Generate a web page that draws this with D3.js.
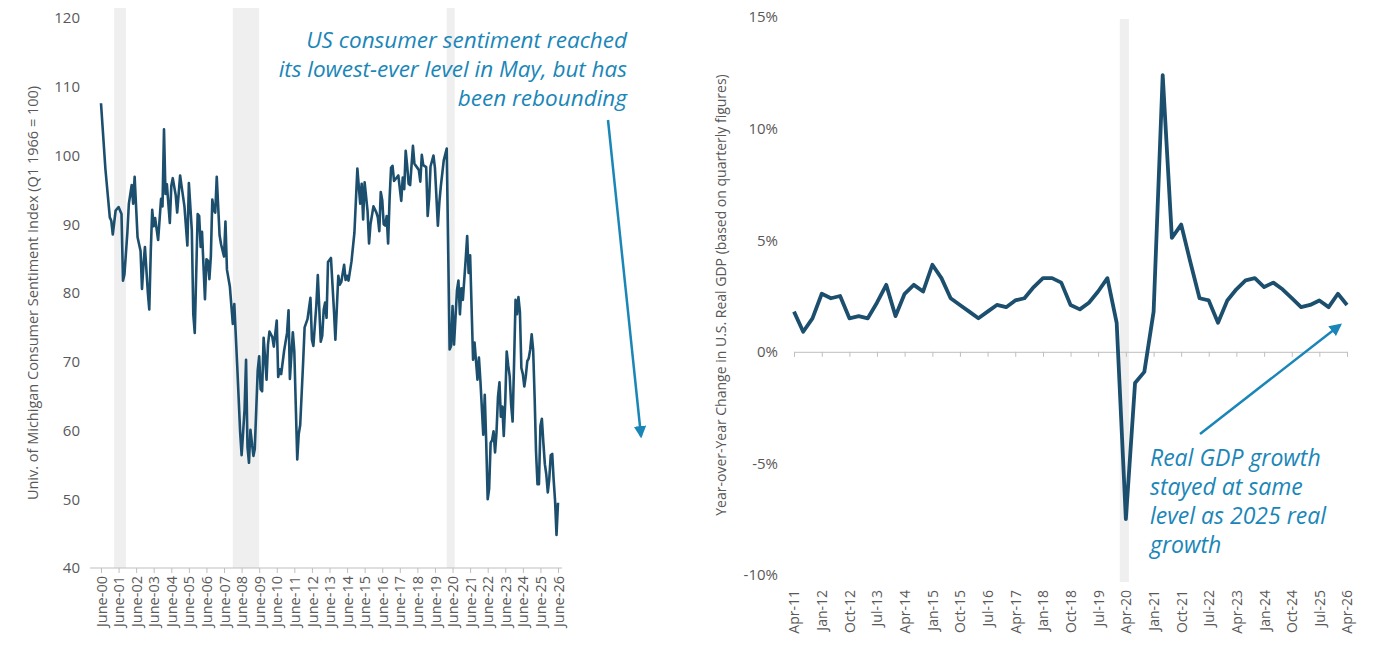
<!DOCTYPE html>
<html><head><meta charset="utf-8">
<script src="https://cdn.jsdelivr.net/npm/d3@7"></script>
<style>body{margin:0;background:#fff}text{font-family:"Open Sans",sans-serif}</style>
</head><body>
<script>
// sentiment, monthly-ish points
var sentDates = ["2000-06","2000-09","2000-12","2001-01","2001-02","2001-04","2001-06","2001-08","2001-09","2001-10","2001-12","2002-01","2002-03","2002-04","2002-05","2002-07","2002-09","2002-10","2002-11","2002-12","2003-02","2003-03","2003-04","2003-05","2003-06","2003-07","2003-08","2003-09","2003-11","2003-12","2004-01","2004-02","2004-03","2004-05","2004-06","2004-07","2004-09","2004-10","2004-12","2005-01","2005-03","2005-05","2005-06","2005-08","2005-09","2005-10","2005-12","2006-01","2006-02","2006-03","2006-05","2006-06","2006-07","2006-08","2006-09","2006-10","2006-11","2006-12","2007-01","2007-03","2007-04","2007-06","2007-07","2007-08","2007-10","2007-12","2008-01","2008-03","2008-05","2008-06","2008-08","2008-09","2008-10","2008-11","2008-12","2009-02","2009-03","2009-05","2009-06","2009-07","2009-08","2009-09","2009-10","2009-11","2009-12","2010-01","2010-03","2010-04","2010-06","2010-07","2010-08","2010-09","2010-11","2011-01","2011-02","2011-03","2011-05","2011-06","2011-07","2011-08","2011-09","2011-10","2011-12","2012-01","2012-03","2012-05","2012-06","2012-07","2012-09","2012-10","2012-12","2013-01","2013-02","2013-03","2013-04","2013-05","2013-07","2013-09","2013-10","2013-12","2014-01","2014-02","2014-04","2014-05","2014-06","2014-07","2014-09","2014-11","2015-01","2015-02","2015-03","2015-04","2015-05","2015-06","2015-08","2015-09","2015-10","2015-12","2016-02","2016-03","2016-04","2016-05","2016-06","2016-07","2016-08","2016-09","2016-10","2016-11","2016-12","2017-01","2017-02","2017-05","2017-07","2017-08","2017-09","2017-10","2017-11","2017-12","2018-01","2018-03","2018-04","2018-06","2018-07","2018-08","2018-09","2018-10","2018-12","2019-01","2019-02","2019-03","2019-05","2019-06","2019-08","2019-09","2019-10","2019-12","2020-02","2020-04","2020-05","2020-06","2020-07","2020-09","2020-10","2020-11","2020-12","2021-01","2021-03","2021-04","2021-05","2021-06","2021-08","2021-09","2021-11","2021-12","2022-01","2022-03","2022-04","2022-05","2022-06","2022-07","2022-08","2022-09","2022-10","2022-11","2022-12","2023-01","2023-02","2023-03","2023-04","2023-05","2023-06","2023-07","2023-08","2023-09","2023-10","2023-11","2023-12","2024-01","2024-02","2024-03","2024-04","2024-05","2024-06","2024-07","2024-08","2024-09","2024-10","2024-11","2024-12","2025-01","2025-02","2025-03","2025-04","2025-05","2025-06","2025-07","2025-08","2025-09","2025-10","2025-11","2025-12","2026-01","2026-02","2026-03","2026-04","2026-05","2026-06"];
var sentVals = [107.6,98,91,90.5,88.5,92,92.5,91.5,81.8,82.7,88.8,93,95.7,93,96.9,88.1,86.1,80.6,84.2,86.7,79.9,77.6,86,92.1,89.7,90.9,89.3,87.7,93.7,92.6,103.8,94.4,95.8,90.2,95.6,96.7,94.2,91.7,97.1,95.5,92.6,86.9,96,89.1,76.9,74.2,91.5,91.2,86.7,88.9,79.1,84.9,84.7,82,85.4,93.6,92.1,91.7,96.9,88.4,87.1,85.3,90.4,83.4,80.9,75.5,78.4,69.5,59.8,56.4,63,70.3,57.6,55.3,60.1,56.3,57.3,68.7,70.8,66,65.7,73.5,70.6,67.4,72.5,74.4,73.6,72.2,76,67.8,68.9,68.2,71.6,74.2,77.5,67.5,74.3,71.5,63.7,55.8,59.5,60.8,69.9,75,76.2,79.3,73.2,72.3,78.3,82.6,72.9,73.8,77.6,78.6,76.4,84.5,85.1,77.5,73.2,82.5,81.2,81.6,84.1,81.9,82.5,81.8,84.6,88.8,98.1,95.4,93,95.9,90.7,96.1,91.9,87.2,90,92.6,91.7,91,89,94.7,93.5,90,89.8,91.2,87.2,93.8,98.2,98.5,96.3,97.1,93.4,96.8,95.1,100.7,98.5,95.9,95.7,101.4,98.8,98.2,97.9,96.2,100.1,98.6,98.3,91.2,93.8,98.4,100,98.2,89.8,93.2,95.5,99.3,101,71.8,72.3,78.1,72.5,80.4,81.8,76.9,80.7,79,84.9,88.3,82.9,85.5,70.3,72.8,67.4,70.6,67.2,59.4,65.2,58.4,50,51.5,58.2,58.6,59.9,56.8,59.7,64.9,67,62,63.5,59.2,64.2,71.5,69.5,67.9,63.8,61.3,69.7,79,76.9,79.4,77.2,69.1,68.2,66.4,67.9,70.1,70.5,71.8,74,71.7,64.7,57,52.2,52.2,60.7,61.7,58.2,55.1,53.6,51,52.9,56.4,56.6,53,49.8,44.8,49.5];
var sentTicks = [40,50,60,70,80,90,100,110,120];
var sentRecessions = [["2001-03","2001-11"],["2007-12","2009-06"],["2020-02","2020-04"]];

// GDP, quarterly, Apr-11 .. Apr-26
var gdpVals = [1.8,0.9,1.5,2.6,2.4,2.5,1.5,1.6,1.5,2.2,3.0,1.6,2.6,3.0,2.7,3.9,3.3,2.4,2.1,1.8,1.5,1.8,2.1,2.0,2.3,2.4,2.9,3.3,3.3,3.1,2.1,1.9,2.2,2.7,3.3,1.3,-7.5,-1.4,-0.9,1.8,12.4,5.1,5.7,4.0,2.4,2.3,1.3,2.3,2.8,3.2,3.3,2.9,3.1,2.8,2.4,2.0,2.1,2.3,2.0,2.6,2.1];
var gdpTicks = [-10,-5,0,5,10,15];
var gdpRecession = ["2020-02","2020-05"];

var navy = "#1c4f6e", blue = "#1a86b8", grey = "#595959";
var svg = d3.select("body").append("svg").attr("width",1382).attr("height",650);
var parse = d3.timeParse("%Y-%m");
var mon = d3.timeFormat("%b");

svg.append("defs").append("marker").attr("id","ah").attr("viewBox","0 0 10 10")
  .attr("refX",8).attr("refY",5).attr("markerWidth",5).attr("markerHeight",5).attr("orient","auto")
  .append("path").attr("d","M0,0L10,5L0,10z").attr("fill",blue);

// ---------- left chart
var x1 = d3.scaleTime().domain([parse("2000-06"),parse("2026-06")]).range([101,558]);
var y1 = d3.scaleLinear().domain([40,120]).range([568,18]);
var g1 = svg.append("g");
sentRecessions.forEach(function(r){
  g1.append("rect").attr("x",x1(parse(r[0]))).attr("width",Math.max(8,x1(parse(r[1]))-x1(parse(r[0]))))
    .attr("y",8).attr("height",560).attr("fill","#efefef");
});
g1.append("g").attr("transform","translate(90,0)")
  .call(d3.axisLeft(y1).tickValues(sentTicks).tickSize(0).tickPadding(10))
  .call(function(a){a.select(".domain").remove();a.selectAll("text").attr("font-size",15).attr("fill",grey);});
g1.append("line").attr("x1",90).attr("x2",562).attr("y1",568).attr("y2",568).attr("stroke","#bfbfbf");
var xt1 = d3.range(0,27).map(function(i){return parse((2000+i)+"-06");});
g1.append("g").attr("transform","translate(0,568)")
  .call(d3.axisBottom(x1).tickValues(xt1).tickSize(5).tickFormat(function(d){return "June-"+d3.timeFormat("%y")(d);}))
  .call(function(a){a.select(".domain").remove();a.selectAll("line").attr("stroke","#bfbfbf");
    a.selectAll("text").attr("font-size",14.5).attr("fill",grey).attr("transform","rotate(-90)")
     .attr("text-anchor","end").attr("x",-8).attr("y",0).attr("dy","0.35em");});
g1.append("path").datum(sentDates.map(function(d,i){return [parse(d),sentVals[i]];}))
  .attr("fill","none").attr("stroke",navy).attr("stroke-width",2.6).attr("stroke-linejoin","round")
  .attr("d",d3.line().x(function(d){return x1(d[0]);}).y(function(d){return y1(d[1]);}));
g1.append("text").attr("transform","translate(38,293) rotate(-90)").attr("text-anchor","middle")
  .attr("font-size",14.5).attr("fill",grey).text("Univ. of Michigan Consumer Sentiment Index (Q1 1966 = 100)");
["US consumer sentiment reached","its lowest-ever level in May, but has","been rebounding"].forEach(function(t,i){
  g1.append("text").attr("x",627).attr("y",48+i*29).attr("text-anchor","end").attr("font-style","italic")
    .attr("font-size",22.5).attr("fill",blue).text(t);
});
g1.append("line").attr("x1",608).attr("y1",120).attr("x2",641).attr("y2",436)
  .attr("stroke",blue).attr("stroke-width",2.5).attr("marker-end","url(#ah)");

// ---------- right chart
var q0 = parse("2011-04");
var gdpDates = gdpVals.map(function(v,i){return d3.timeMonth.offset(q0,i*3);});
var x2 = d3.scaleTime().domain([q0,parse("2026-04")]).range([794,1347]);
var y2 = d3.scaleLinear().domain([-10,15]).range([575,17]);
var g2 = svg.append("g");
g2.append("rect").attr("x",x2(parse(gdpRecession[0]))).attr("width",x2(parse(gdpRecession[1]))-x2(parse(gdpRecession[0])))
  .attr("y",19).attr("height",563).attr("fill","#efefef");
g2.append("g").attr("transform","translate(790,0)")
  .call(d3.axisLeft(y2).tickValues(gdpTicks).tickSize(0).tickPadding(12).tickFormat(function(d){return d+"%";}))
  .call(function(a){a.select(".domain").remove();a.selectAll("text").attr("font-size",15).attr("fill",grey);});
var xt2 = gdpDates.filter(function(d,i){return i%3===0;});
var xa = g2.append("g").attr("transform","translate(0,"+y2(0)+")")
  .call(d3.axisBottom(x2).tickValues(xt2).tickSize(5).tickFormat(function(d){return mon(d)+"-"+d3.timeFormat("%y")(d);}));
xa.select(".domain").attr("stroke","#bfbfbf");
xa.selectAll("line").attr("stroke","#bfbfbf");
xa.selectAll("text").attr("font-size",14).attr("fill",grey).attr("transform","rotate(-90)")
  .attr("text-anchor","end").attr("x",-(590-y2(0))).attr("y",0).attr("dy","0.35em");
g2.append("path").datum(gdpVals.map(function(v,i){return [gdpDates[i],v];}))
  .attr("fill","none").attr("stroke",navy).attr("stroke-width",3.8).attr("stroke-linejoin","round")
  .attr("d",d3.line().x(function(d){return x2(d[0]);}).y(function(d){return y2(d[1]);}));
g2.append("text").attr("transform","translate(726,295) rotate(-90)").attr("text-anchor","middle")
  .attr("font-size",14).attr("fill",grey).text("Year-over-Year Change in U.S. Real GDP (based on quarterly figures)");
["Real GDP growth","stayed at same","level as 2025 real","growth"].forEach(function(t,i){
  g2.append("text").attr("x",1150).attr("y",466+i*29).attr("font-style","italic")
    .attr("font-size",23).attr("fill",blue).text(t);
});
g2.append("line").attr("x1",1200).attr("y1",434).attr("x2",1340).attr("y2",325)
  .attr("stroke",blue).attr("stroke-width",2.5).attr("marker-end","url(#ah)");
</script>
</body></html>
